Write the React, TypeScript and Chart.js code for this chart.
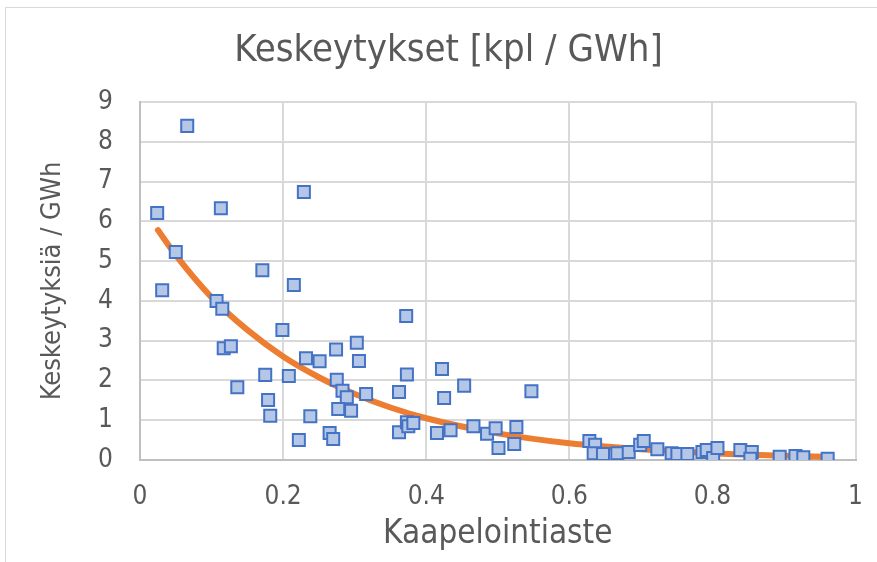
import React, { useEffect, useRef } from "react";
import { Chart, registerables } from "chart.js";

Chart.register(...registerables);

const chartTitle = "Keskeytykset [kpl / GWh]";
const xAxisTitle = "Kaapelointiaste";
const yAxisTitle = "Keskeytyksiä / GWh";

const scatterX = [
  0.024, 0.031, 0.066, 0.05, 0.113, 0.107, 0.115, 0.117, 0.127, 0.136,
  0.171, 0.175, 0.179, 0.182, 0.229, 0.199, 0.215, 0.208, 0.222, 0.232,
  0.238, 0.251, 0.274, 0.265, 0.27, 0.275, 0.283, 0.289, 0.277, 0.295,
  0.303, 0.306, 0.316, 0.372, 0.373, 0.362, 0.362, 0.373, 0.375, 0.382,
  0.422, 0.425, 0.453, 0.415, 0.434, 0.466, 0.485, 0.497, 0.501, 0.526,
  0.523, 0.547, 0.628, 0.636, 0.634, 0.647, 0.667, 0.683, 0.699, 0.704,
  0.723, 0.743, 0.751, 0.765, 0.786, 0.792, 0.801, 0.807, 0.839, 0.855,
  0.853, 0.894, 0.916, 0.927, 0.961,
];
const scatterY = [
  6.21, 4.27, 8.4, 5.23, 6.33, 4.0, 3.8, 2.81, 2.86, 1.83,
  4.77, 2.14, 1.51, 1.11, 6.74, 3.27, 4.4, 2.11, 0.5, 2.56,
  1.1, 2.48, 2.78, 0.68, 0.53, 2.02, 1.74, 1.58, 1.28, 1.24,
  2.95, 2.49, 1.66, 3.62, 2.15, 1.71, 0.7, 0.95, 0.85, 0.93,
  2.29, 1.56, 1.87, 0.68, 0.75, 0.85, 0.66, 0.8, 0.3, 0.83,
  0.4, 1.73, 0.48, 0.38, 0.17, 0.15, 0.17, 0.2, 0.38, 0.48,
  0.27, 0.17, 0.15, 0.15, 0.2, 0.25, 0.05, 0.3, 0.25, 0.2,
  0.03, 0.08, 0.1, 0.07, 0.03,
];

const trendX = [0.025, 0.05, 0.1, 0.15, 0.2, 0.25, 0.3, 0.35, 0.4, 0.5, 0.6, 0.7, 0.8, 0.9, 0.96];
const trendY = [5.78, 5.15, 4.09, 3.27, 2.6, 2.08, 1.66, 1.32, 1.05, 0.67, 0.42, 0.27, 0.17, 0.11, 0.08];

const FONT = "'DejaVu Sans Condensed', 'Liberation Sans Narrow', sans-serif";
const TEXT = "#595959";

export default function App() {
  const ref = useRef<HTMLCanvasElement | null>(null);

  useEffect(() => {
    document.body.style.margin = "0";
    const canvas = ref.current;
    if (!canvas) return;
    const chart = new Chart(canvas, {
      type: "scatter",
      data: {
        datasets: [
          {
            type: "scatter",
            label: "data",
            data: scatterX.map((x, i) => ({ x, y: scatterY[i] })),
            pointStyle: "rect",
            pointRadius: 8.5,
            pointHoverRadius: 8.5,
            backgroundColor: "#B4C7E7",
            borderColor: "#4472C4",
            borderWidth: 2,
          },
          {
            type: "line",
            label: "trend",
            data: trendX.map((x, i) => ({ x, y: trendY[i] })),
            borderColor: "#ED7D31",
            borderWidth: 6,
            borderCapStyle: "round",
            pointRadius: 0,
            fill: false,
            cubicInterpolationMode: "monotone",
            showLine: true,
          } as any,
        ],
      },
      options: {
        animation: false,
        responsive: false,
        layout: { padding: { left: 12, right: 0, top: 0, bottom: 0 } },
        plugins: {
          legend: { display: false },
          tooltip: { enabled: false },
          title: {
            display: true,
            text: chartTitle,
            color: TEXT,
            font: { family: FONT, size: 38, weight: "normal", lineHeight: 1.2 },
            padding: { top: 28, bottom: 28.4 },
          },
        },
        scales: {
          x: {
            type: "linear",
            min: 0,
            max: 1,
            ticks: {
              stepSize: 0.2,
              color: TEXT,
              padding: 22,
              font: { family: FONT, size: 26 },
              callback: (v: any) => String(Math.round(Number(v) * 10) / 10),
            },
            grid: { color: "#D9D9D9", lineWidth: 2, drawTicks: false },
            border: { color: "#BFBFBF", width: 2 },
            title: {
              display: true,
              text: xAxisTitle,
              color: TEXT,
              font: { family: FONT, size: 33, lineHeight: 1.2 },
              padding: { top: 0, bottom: 8 },
            },
            afterFit: (s: any) => {
              s.height = 102;
            },
          },
          y: {
            type: "linear",
            min: 0,
            max: 9,
            ticks: {
              stepSize: 1,
              color: TEXT,
              padding: 27,
              font: { family: FONT, size: 26 },
            },
            grid: { color: "#D9D9D9", lineWidth: 2, drawTicks: false },
            border: { color: "#BFBFBF", width: 2 },
            title: {
              display: true,
              text: yAxisTitle,
              color: TEXT,
              font: { family: FONT, size: 27, lineHeight: 1.2 },
              padding: { top: 24.8, bottom: 0 },
            },
            afterFit: (s: any) => {
              s.width = 128;
            },
          },
        },
      },
    });
    return () => chart.destroy();
  }, []);

  return (
    <div style={{ position: "relative", width: 877, height: 562, overflow: "hidden", background: "#fff" }}>
      <div
        style={{
          position: "absolute",
          left: 5,
          top: 7,
          width: 900,
          height: 600,
          border: "1px solid #D9D9D9",
          boxSizing: "border-box",
        }}
      />
      <canvas ref={ref} width={885} height={562} style={{ position: "absolute", left: 0, top: 0, width: 885, height: 562 }} />
    </div>
  );
}
